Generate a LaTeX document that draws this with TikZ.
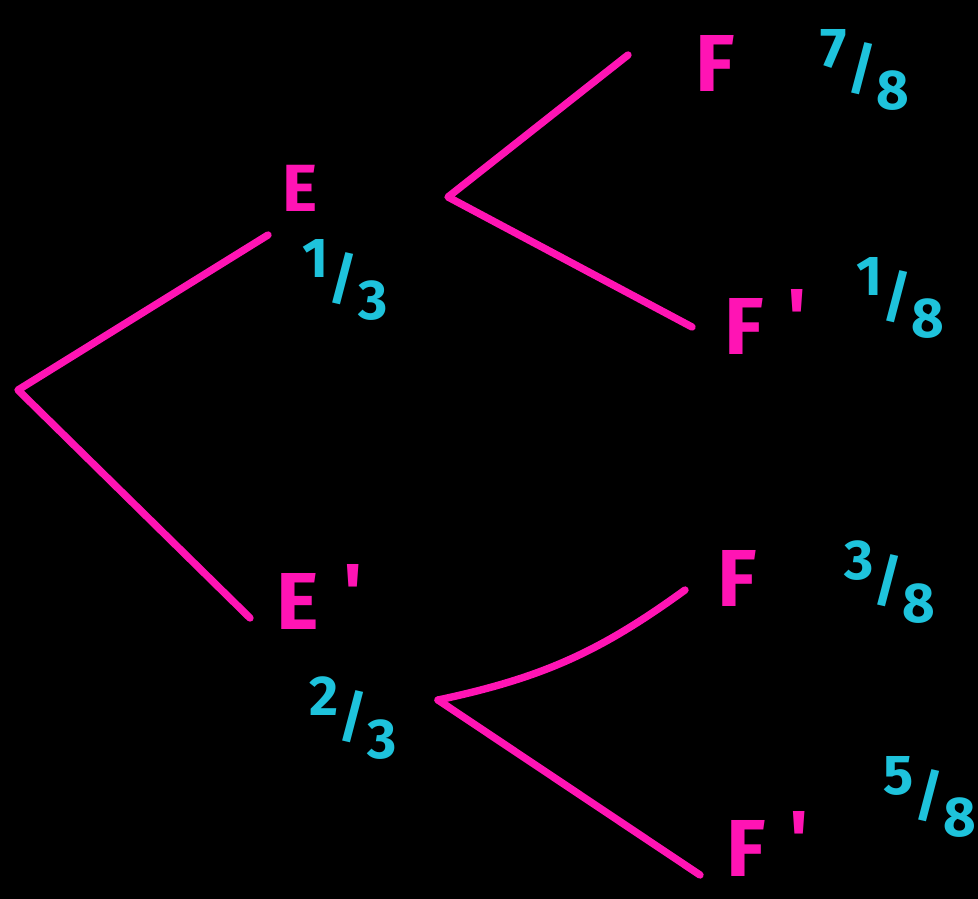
\documentclass[tikz,border=0pt]{standalone}
\usepackage{fontspec}
\setmainfont{Fira Sans}
\usepackage{tikz}
\usetikzlibrary{positioning}
\definecolor{treepink}{HTML}{FF14B4}
\definecolor{probcyan}{HTML}{1EC3DC}
\newcommand{\slfrac}[2]{\raisebox{0.38em}{#1}/\raisebox{-0.38em}{#2}}
\newcommand{\prm}{\hspace{0.3em}\raisebox{0.12em}{\textquotesingle}}

\begin{document}
\begin{tikzpicture}[
        x=0.02cm, y=-0.02cm,
        branch/.style={draw=treepink, line width=4.2pt, line cap=round, line join=round},
        event/.style={text=treepink, inner sep=0pt, font=\fontsize{46}{50}\selectfont\bfseries},
        prob/.style={text=probcyan, inner sep=0pt, font=\fontsize{32}{36}\selectfont\bfseries}
    ]
    \fill[black] (0,0) rectangle (978,899);
    \useasboundingbox (0,0) rectangle (978,899);

    % branch points and free ends
    \coordinate (root) at (18,390);
    \coordinate (endE) at (268,235);
    \coordinate (endEc) at (250,618);
    \coordinate (forkE) at (448,197);
    \coordinate (endEF) at (628,55);
    \coordinate (endEFc) at (692,327);
    \coordinate (forkEc) at (438,700);
    \coordinate (endEcF) at (685,590);
    \coordinate (endEcFc) at (700,875);

    % first stage
    \node[event, font=\fontsize{38}{42}\selectfont\bfseries] (E) at (300,188) {E};
    \node[event, anchor=west] (Ec) at (276,597) {E\prm};
    \node[prob] (pE) at (345,280) {\slfrac{1}{3}};
    \node[prob] (pEc) at (353,718) {\slfrac{2}{3}};

    % second stage
    \node[event] (EF) at (715,63) {F};
    \node[event, anchor=west] (EFc) at (724,322) {F\prm};
    \node[event] (EcF) at (737,578) {F};
    \node[event, anchor=west] (EcFc) at (726,844) {F\prm};
    \node[prob] (pEF) at (865,70) {\slfrac{7}{8}};
    \node[prob] (pEFc) at (900,298) {\slfrac{1}{8}};
    \node[prob] (pEcF) at (890,582) {\slfrac{3}{8}};
    \node[prob] (pEcFc) at (930,797) {\slfrac{5}{8}};

    \draw[branch] (endE) -- (root) -- (endEc);
    \draw[branch] (endEF) -- (forkE) -- (endEFc);
    \draw[branch] (forkEc) to[bend right=12] (endEcF);
    \draw[branch] (forkEc) -- (endEcFc);
\end{tikzpicture}
\end{document}
